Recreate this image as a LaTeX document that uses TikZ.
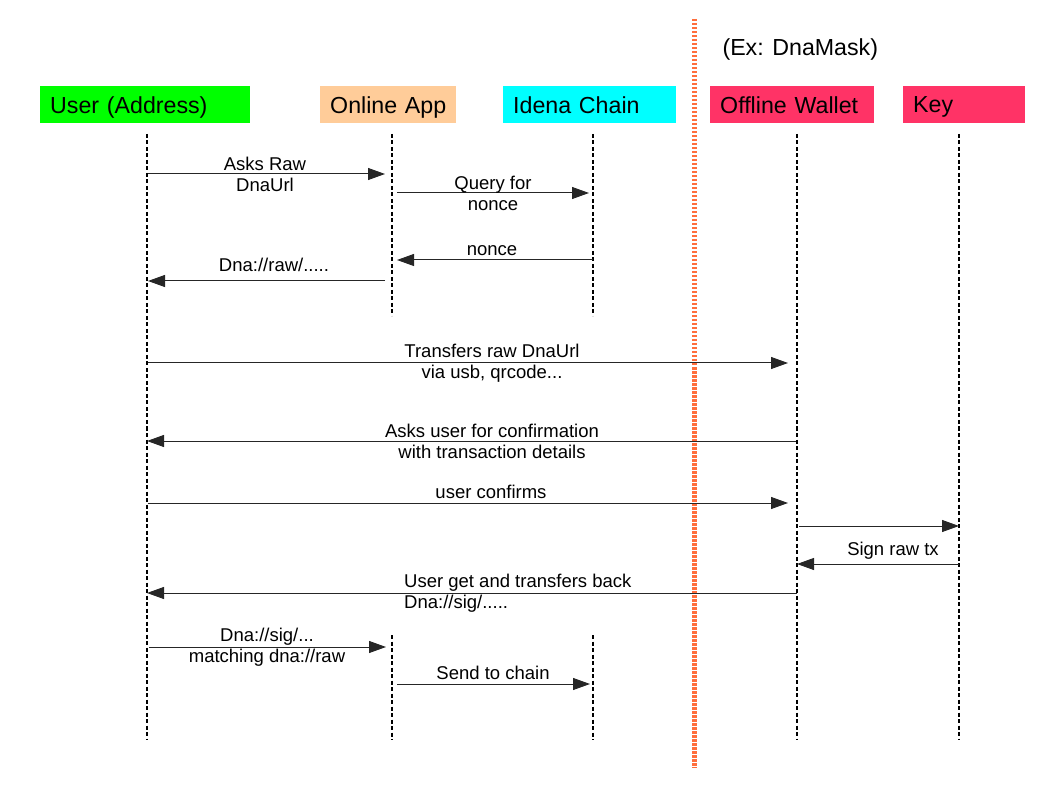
\documentclass[tikz,border=0pt]{standalone}
\usepackage{fontspec}
\setmainfont{Liberation Sans}
\usetikzlibrary{arrows.meta,positioning}

\definecolor{actgreen}{RGB}{0,255,0}
\definecolor{actpeach}{RGB}{255,204,153}
\definecolor{actcyan}{RGB}{0,255,255}
\definecolor{actpink}{RGB}{255,51,102}
\definecolor{sepcoral}{RGB}{255,110,60}

\begin{document}
\begin{tikzpicture}[x=1pt,y=-1pt,
    actor/.style={anchor=north west,minimum height=37pt,inner xsep=10pt,
      inner ysep=0pt,text depth=0pt,font=\fontsize{23.2}{26}\selectfont,align=left},
    lifeline/.style={line width=1.5pt,dash pattern=on 4pt off 2.5pt},
    msg/.style={draw=black!85,line width=1pt,-{Triangle[length=17pt,width=12pt]}},
    lbl/.style={font=\fontsize{18.5}{21}\selectfont,align=center,inner sep=0pt},
    lblabove/.style={lbl,anchor=base},
  ]
  \useasboundingbox (0,0) rectangle (1058,794);

  % actors
  \node[actor,fill=actgreen,text width=190pt]  (user)   at (40,86)  {User (Address)};
  \node[actor,fill=actpeach,text width=116pt]  (app)    at (320,86) {Online~App};
  \node[actor,fill=actcyan,text width=153pt]   (chain)  at (503,86) {Idena Chain};
  \node[actor,fill=actpink,text width=144pt]   (wallet) at (710,86) {Offline Wallet};
  \node[actor,fill=actpink,text width=102pt]   (key)    at (903,86) {Key};
  \node[font=\fontsize{23.2}{26}\selectfont,anchor=west] (mask) at (719,49) {(Ex: DnaMask)};

  % lifelines
  \coordinate (uT) at (147,134);  \coordinate (uB) at (147,740);
  \coordinate (aT) at (392,134);  \coordinate (aB) at (392,316);
  \coordinate (cT) at (593,134);  \coordinate (cB) at (593,316);
  \coordinate (a2T) at (392,635); \coordinate (a2B) at (392,740);
  \coordinate (c2T) at (593,635); \coordinate (c2B) at (593,740);
  \coordinate (wT) at (797,134);  \coordinate (wB) at (797,740);
  \coordinate (kT) at (959,134);  \coordinate (kB) at (959,740);
  \draw[lifeline] (uT) -- (uB);
  \draw[lifeline] (aT) -- (aB);
  \draw[lifeline] (cT) -- (cB);
  \draw[lifeline] (a2T) -- (a2B);
  \draw[lifeline] (c2T) -- (c2B);
  \draw[lifeline] (wT) -- (wB);
  \draw[lifeline] (kT) -- (kB);

  % online / offline border
  \coordinate (sepT) at (694,19);
  \coordinate (sepB) at (694,768);
  \draw[sepcoral,line width=5pt,dash pattern=on 2.5pt off 1.5pt] (sepT) -- (sepB);

  % messages
  \draw[msg,shorten <=1pt,shorten >=7pt] (uT |- 0,174) -- (aT |- 0,174);
  \node[lbl] (m1) at (265,174) {Asks Raw\\DnaUrl};

  \draw[msg,shorten <=5pt,shorten >=4pt] (aT |- 0,193) -- (cT |- 0,193);
  \node[lbl] (m2) at (493,193) {Query for\\nonce};

  \draw[msg,shorten >=5pt] (cT |- 0,260) -- (aT |- 0,260);
  \node[lblabove] (m3) at (492,256) {nonce};

  \draw[msg,shorten <=7pt,shorten >=1pt] (aT |- 0,281) -- (uT |- 0,281);
  \node[lblabove] (m4) at (274,272) {Dna://raw/.....};

  \draw[msg,shorten <=1pt,shorten >=9pt] (uT |- 0,363) -- (wT |- 0,363);
  \node[lbl] (m5) at (492,363) {Transfers raw DnaUrl\\via usb, qrcode...};

  \draw[msg,shorten <=1pt] (wT |- 0,441) -- (uT |- 0,441);
  \node[lbl] (m6) at (492,441) {Asks user for confirmation\\with transaction details};

  \draw[msg,shorten <=1pt,shorten >=9pt] (uT |- 0,503) -- (wT |- 0,503);
  \node[lblabove] (m7) at (491,498) {user confirms};

  \draw[msg,shorten <=2pt] (wT |- 0,526) -- (kT |- 0,526);

  \draw[msg] (kT |- 0,564) -- (wT |- 0,564);
  \node[lblabove] (m9) at (893,555) {Sign raw tx};

  \draw[msg] (wT |- 0,593) -- (uT |- 0,593);
  \node[lbl,align=left,anchor=west] (m10) at (404,593) {User get and transfers back\\Dna://sig/.....};

  \draw[msg,shorten <=2pt,shorten >=6pt] (uT |- 0,647) -- (a2T |- 0,647);
  \node[lbl] (m11) at (267,647) {Dna://sig/...\\matching dna://raw};

  \draw[msg,shorten <=5pt,shorten >=3pt] (a2T |- 0,684) -- (c2T |- 0,684);
  \node[lblabove] (m12) at (493,679) {Send to chain};
\end{tikzpicture}
\end{document}
